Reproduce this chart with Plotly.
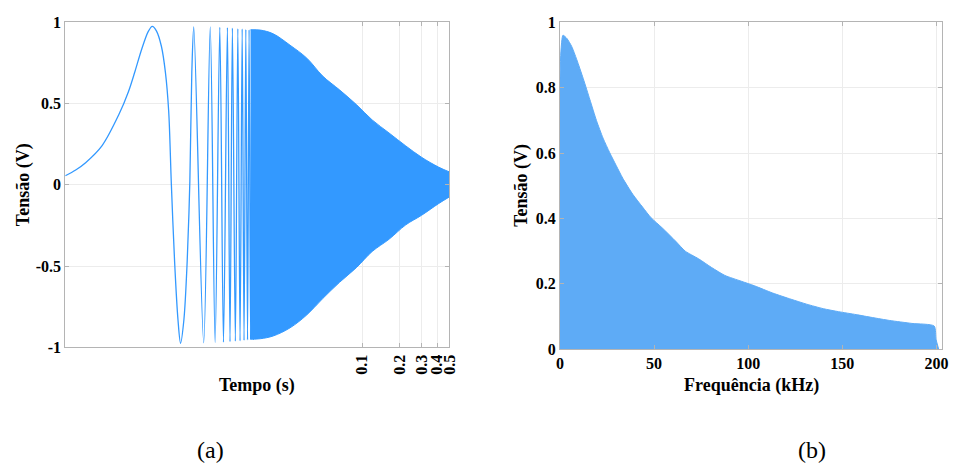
import plotly.graph_objects as go

W, H = 958, 472

# ---------------- (a) time signal ----------------
# individually resolved part of the sweep (time in s, voltage in V)
t_wave = [0.000414, 0.000502, 0.000603, 0.000818, 0.00111, 0.001332, 0.001503,
          0.001699, 0.00192, 0.002066, 0.002235, 0.002448, 0.002634, 0.002797,
          0.00294, 0.003122, 0.003322, 0.003485, 0.003707, 0.003937, 0.004137,
          0.00429, 0.00445, 0.005343, 0.00603, 0.0066, 0.007195, 0.0077,
          0.00828, 0.00869, 0.00908, 0.00959, 0.01004, 0.01046, 0.01088,
          0.01126, 0.01164, 0.01201, 0.01236, 0.01271, 0.01304, 0.01335, 0.01364]
v_wave = [0.056, 0.092, 0.137, 0.242, 0.43, 0.575, 0.70,
          0.835, 0.945, 0.976, 0.947, 0.852, 0.693, 0.456,
          0.003, -0.474, -0.83, -0.975, -0.83, -0.474, 0.02,
          0.693, 0.972, -0.972, 0.972, -0.97, 0.97, -0.968,
          0.968, -0.965, 0.965, -0.962, 0.962, -0.96, 0.96,
          -0.958, 0.958, -0.955, 0.956, -0.953, 0.955, -0.951, 0.954]

# envelope of the dense part
t_env = [0.0127, 0.01522, 0.01931, 0.02634, 0.03594, 0.04815, 0.06568,
         0.0896, 0.1201, 0.1638, 0.2235, 0.2994, 0.4085, 0.5]
v_upper = [0.955, 0.953, 0.93, 0.86, 0.78, 0.67, 0.585,
           0.495, 0.40, 0.32, 0.24, 0.17, 0.11, 0.08]
v_lower = [-0.95, -0.947, -0.93, -0.88, -0.80, -0.70, -0.60,
           -0.51, -0.41, -0.335, -0.246, -0.187, -0.116, -0.074]

t_ticks = [0.1, 0.2, 0.3, 0.4, 0.5]
va_ticks = [-1, -0.5, 0, 0.5, 1]

# ---------------- (b) spectrum ----------------
f_khz = [0, 0.5, 1.6, 3.7, 6.3, 8.9, 12.4, 15.9, 19.4, 22.9, 26.4, 29.9, 33.4,
         38.7, 43.9, 48.3, 54.4, 61.4, 66.6, 73.6, 80.6, 87.6, 96.4, 103.4,
         113, 122.8, 131, 140, 148, 157.4, 166, 175.2, 187, 198.8, 199.8, 201.2]
amp = [0.82, 0.91, 0.961, 0.951, 0.926, 0.887, 0.828, 0.764, 0.70, 0.646, 0.602,
       0.562, 0.523, 0.474, 0.435, 0.403, 0.371, 0.331, 0.30, 0.277, 0.25, 0.226,
       0.208, 0.194, 0.172, 0.153, 0.138, 0.124, 0.115, 0.106, 0.097, 0.088,
       0.079, 0.071, 0.03, 0.0]

f_ticks = [0, 50, 100, 150, 200]
vb_ticks = [0, 0.2, 0.4, 0.6, 0.8, 1]

BLUE = "#3399ff"
BLUE_B = "#5eabf6"
FRAME = "#b4b4b4"
GRID = "#ececec"
SERIF = "Liberation Serif, Times New Roman, serif"

fig = go.Figure()

fig.add_trace(go.Scatter(x=t_wave, y=v_wave, mode="lines",
                         line=dict(color=BLUE, width=1.3, shape="spline", smoothing=0.9),
                         xaxis="x", yaxis="y", showlegend=False))
fig.add_trace(go.Scatter(x=t_env, y=v_upper, mode="lines",
                         line=dict(color=BLUE, width=1, shape="spline"), xaxis="x",
                         yaxis="y", showlegend=False))
fig.add_trace(go.Scatter(x=t_env, y=v_lower, mode="lines",
                         line=dict(color=BLUE, width=1, shape="spline"), fill="tonexty",
                         fillcolor=BLUE, xaxis="x", yaxis="y", showlegend=False))

fig.add_trace(go.Scatter(x=f_khz, y=amp, mode="lines",
                         line=dict(color=BLUE_B, width=1, shape="spline", smoothing=0.6),
                         fill="tozeroy", fillcolor=BLUE_B, xaxis="x2", yaxis="y2",
                         showlegend=False))


def px_x(p):
    return p / W


def px_y(p):
    return 1 - p / H


def bold(vals):
    return ["<b>%s</b>" % v for v in vals]


axis_common = dict(showline=True, linecolor=FRAME, linewidth=1, mirror="ticks",
                   ticks="inside", ticklen=4, tickcolor=FRAME, showgrid=True,
                   gridcolor=GRID, gridwidth=1, zeroline=False,
                   tickfont=dict(family=SERIF, size=16, color="black"))

fig.update_layout(
    width=W, height=H, margin=dict(l=0, r=0, t=0, b=0),
    paper_bgcolor="white", plot_bgcolor="white",
    xaxis=dict(type="log", domain=[px_x(62), px_x(451)], anchor="y",
               range=[-3.3833, -0.30103], tickvals=t_ticks,
               ticktext=bold(t_ticks), tickangle=-90, **axis_common),
    yaxis=dict(domain=[px_y(352), px_y(15)], anchor="x", range=[-1, 1],
               tickvals=va_ticks, ticktext=bold(["-1", "-0.5", "0", "0.5", "1"]),
               **axis_common),
    xaxis2=dict(domain=[px_x(563), px_x(950)], anchor="y2", range=[0, 203],
                tickvals=f_ticks, ticktext=bold(f_ticks), **axis_common),
    yaxis2=dict(domain=[px_y(354), px_y(15)], anchor="x2", range=[0, 1],
                tickvals=vb_ticks, ticktext=bold(["0", "0.2", "0.4", "0.6", "0.8", "1"]),
                **axis_common),
)

title_font = dict(family=SERIF, size=18, color="black")
ann = [
    dict(text="<b>Tensão (V)</b>", x=px_x(20), y=px_y(183), textangle=-90, font=title_font),
    dict(text="<b>Tempo (s)</b>", x=px_x(256), y=px_y(392), font=title_font),
    dict(text="<b>Tensão (V)</b>", x=px_x(524), y=px_y(184), textangle=-90, font=title_font),
    dict(text="<b>Frequência (kHz)</b>", x=px_x(757), y=px_y(392), font=title_font),
    dict(text="(a)", x=px_x(209), y=px_y(459), font=dict(family=SERIF, size=24, color="black")),
    dict(text="(b)", x=px_x(818), y=px_y(459), font=dict(family=SERIF, size=24, color="black")),
]
for a in ann:
    a.update(xref="paper", yref="paper", showarrow=False, xanchor="center", yanchor="middle")
fig.update_layout(annotations=ann)

fig.write_html("out.html")
